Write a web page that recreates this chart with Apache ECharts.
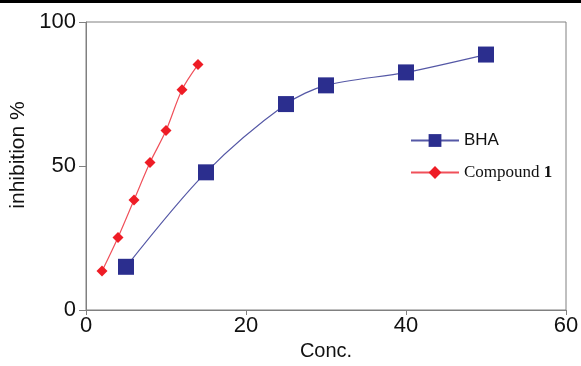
<!DOCTYPE html>
<html>
<head>
<meta charset="utf-8">
<script src="https://cdn.jsdelivr.net/npm/echarts@6/dist/echarts.min.js"></script>
<style>
  html, body { margin: 0; padding: 0; background: #fff; }
  #topbar { position: absolute; left: 0; top: 0; width: 581px; height: 3px; background: #000; }
  #chart { width: 581px; height: 366px; }
</style>
</head>
<body>
<div id="topbar"></div>
<div id="chart"></div>
<script>
  // BHA
  const bhaConc = [5, 15, 25, 30, 40, 50]
  const bhaInhib = [15, 47.8, 71.5, 78, 82.5, 88.7]
  // Compound 1
  const cpdConc = [2, 4, 6, 8, 10, 12, 14]
  const cpdInhib = [13.5, 25.2, 38.2, 51.2, 62.3, 76.5, 85.2]
  const xTicks = [0, 20, 40, 60]
  const yTicks = [0, 50, 100]

  const pair = (xs, ys) => xs.map((x, i) => [x, ys[i]])

  const chart = echarts.init(document.getElementById('chart'))
  chart.setOption({
    animation: false,
    grid: { left: 86, right: 15, top: 22, bottom: 56, outerBoundsMode: 'none', containLabel: false,
      show: true, borderColor: '#808080', borderWidth: 1 },
    legend: {
      left: 405, top: 127,
      orient: 'vertical',
      itemGap: 15,
      itemWidth: 48,
      itemHeight: 16,
      data: [
        { name: 'BHA', textStyle: { fontFamily: 'Liberation Sans', fontSize: 17, color: '#111' } },
        { name: 'Compound 1' }
      ],
      formatter: name => name === 'Compound 1' ? '{a|Compound }{b|1}' : name,
      textStyle: {
        fontSize: 17, color: '#111',
        rich: {
          a: { fontFamily: 'Liberation Serif', fontSize: 17, color: '#111' },
          b: { fontFamily: 'Liberation Serif', fontSize: 17, fontWeight: 'bold', color: '#111' }
        }
      }
    },
    xAxis: {
      type: 'value', min: 0, max: 60, interval: 20,
      name: 'Conc.', nameLocation: 'middle', nameGap: 31,
      nameTextStyle: { fontFamily: 'Liberation Sans', fontSize: 20, color: '#111' },
      axisLine: { lineStyle: { color: '#808080' } },
      axisTick: { show: true, length: 5, lineStyle: { color: '#808080' } },
      axisLabel: { fontFamily: 'Liberation Sans', fontSize: 22, color: '#111', margin: 5,
        formatter: v => xTicks.includes(v) ? v : '' },
      splitLine: { show: false }
    },
    yAxis: {
      type: 'value', min: 0, max: 100, interval: 50,
      name: 'inhibition %', nameLocation: 'middle', nameGap: 54,
      nameTextStyle: { fontFamily: 'Liberation Sans', fontSize: 21, color: '#111', padding: [0, 0, 0, 22] },
      axisLine: { show: true, lineStyle: { color: '#808080' } },
      axisTick: { show: true, length: 7, lineStyle: { color: '#808080' } },
      axisLabel: { fontFamily: 'Liberation Sans', fontSize: 22, color: '#111', margin: 10,
        formatter: v => yTicks.includes(v) ? v : '' },
      splitLine: { show: false }
    },
    series: [
      {
        name: 'BHA', type: 'line', smooth: 0.3,
        data: pair(bhaConc, bhaInhib),
        symbol: 'rect', symbolSize: 16,
        itemStyle: { color: '#2b2e8e' },
        lineStyle: { color: '#5558a6', width: 1.2 }
      },
      {
        name: 'Compound 1', type: 'line', smooth: 0.3,
        data: pair(cpdConc, cpdInhib),
        symbol: 'diamond', symbolSize: 11,
        itemStyle: { color: '#ee1c25' },
        lineStyle: { color: '#f0505a', width: 1.2 }
      }
    ]
  })
</script>
</body>
</html>
